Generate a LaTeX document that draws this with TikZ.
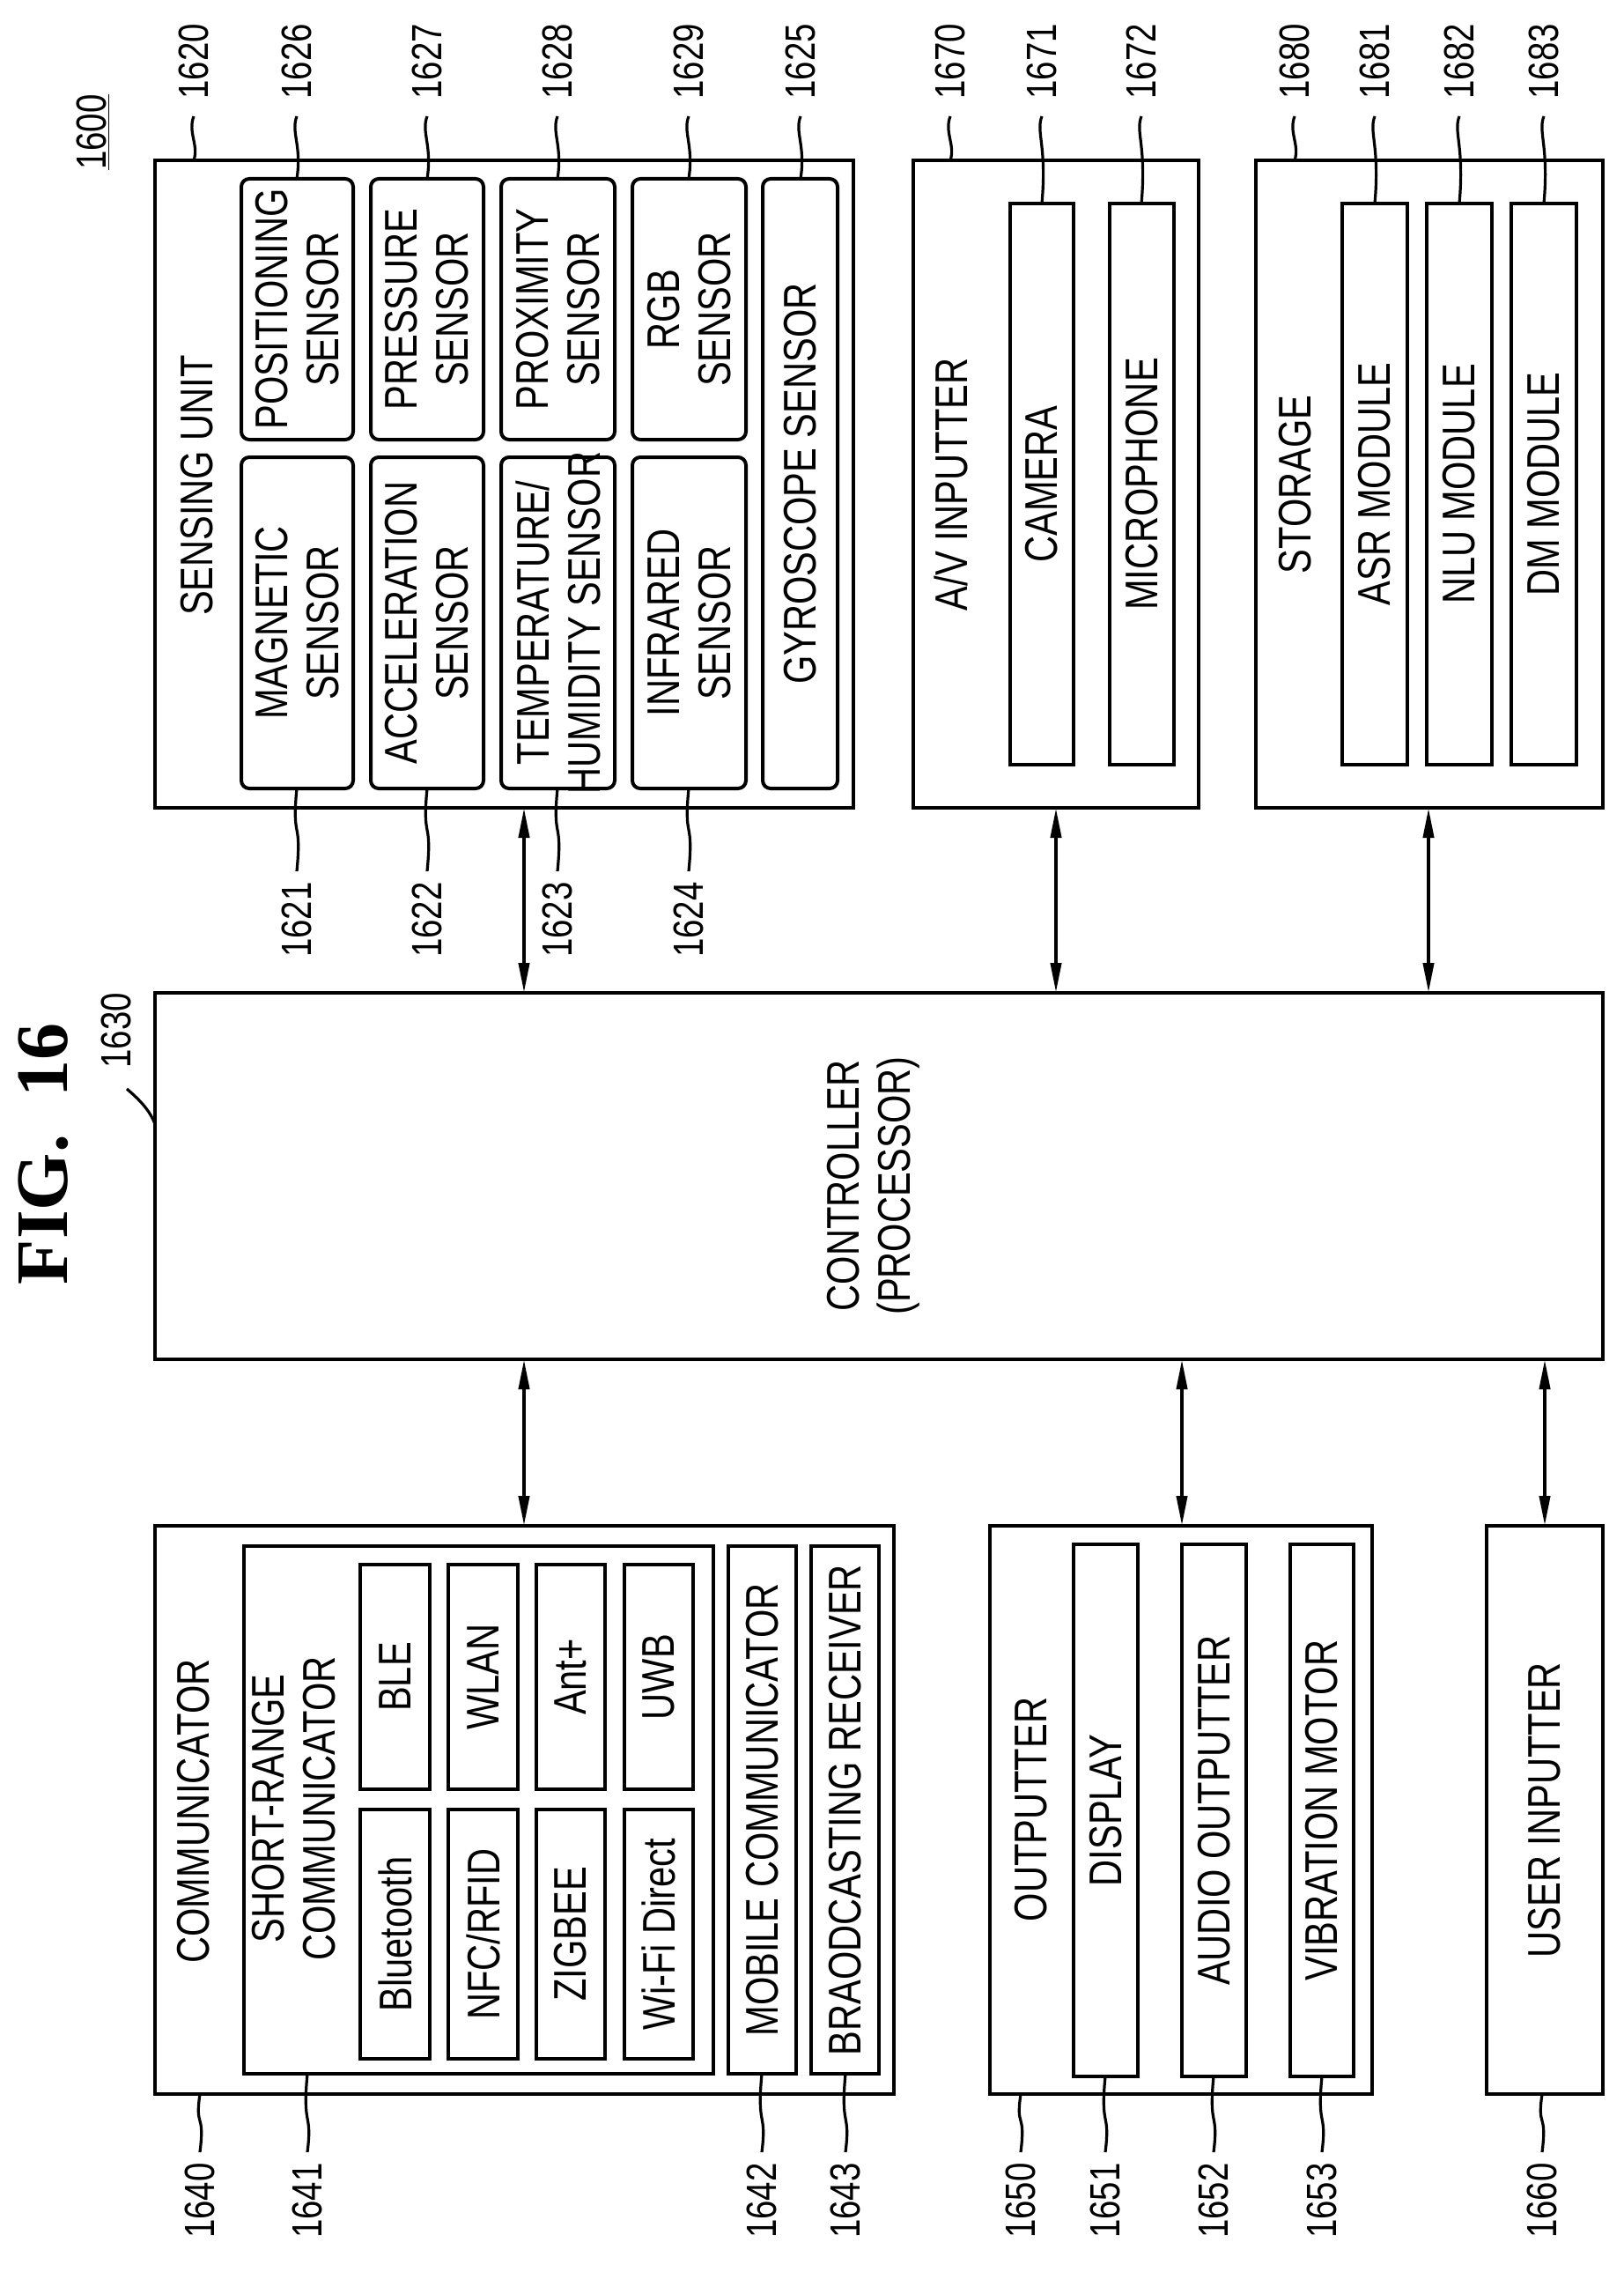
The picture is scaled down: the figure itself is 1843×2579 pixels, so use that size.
\documentclass[tikz,border=0pt]{standalone}
\usepackage{fontspec}
\setmainfont{Liberation Sans}[FakeStretch=0.8]
\newfontfamily\figfont{Liberation Serif}
\usetikzlibrary{arrows.meta,calc}
\tikzset{
 box/.style={draw,line width=2pt,inner sep=0pt,outer sep=0pt},
 rbox/.style={box,rounded corners=4.5pt},
 txt/.style={rotate=90,align=center,inner sep=0pt,font=\fontsize{26}{29}\selectfont},
 num/.style={rotate=90,inner sep=0pt,font=\fontsize{24}{28}\selectfont},
 lead/.style={line width=1.6pt},
 arr/.style={line width=2pt,{Triangle[length=17pt,width=6pt]}-{Triangle[length=17pt,width=6pt]}}
}
\newcommand\bx[7]{%
 \pgfmathsetmacro\bw{(#4-#2)*0.5}\pgfmathsetmacro\bh{(#5-#3)*0.5}%
 \node[#6,minimum width=\bw pt,minimum height=\bh pt] (#1) at ({(#2+#4)/2},{(#3+#5)/2}) {};%
 \node[txt] at (#1.center) {#7};}
\newcommand\toplab[3]{%
 \node[num,anchor=west] (n#1) at (#2,113) {#1};
 \draw[lead] (#2,132) .. controls (#2-7,150) and (#2+6,165) .. (#3 -| n#1);}
\newcommand\botlab[4]{%
 \node[num,anchor=east] (n#1) at (#2,#4+12) {#1};
 \draw[lead] (#3 -| n#1) .. controls (#2-6,{#4-(#4-\tmpy)*0.35}) and (#2+6,{#4-(#4-\tmpy)*0.65}) .. (#2,#4);}
\begin{document}
\begin{tikzpicture}[x=0.5pt,y=-0.5pt]
\useasboundingbox (0,0) rectangle (1843,2579);
\node[rotate=90,inner sep=0pt,font=\figfont\bfseries\fontsize{42}{46}\selectfont] (fig) at (49,1310) {FIG.~~16};
\node[num] (n1600) at (106,150) {\underline{1600}};
% sensing
\bx{sens}{176}{182}{969}{917}{box}{}
\node[txt] at (224,551) {SENSING UNIT};
\bx{s1}{274}{519}{401}{895}{rbox}{MAGNETIC\\SENSOR}
\bx{s2}{421}{519}{549}{895}{rbox}{ACCELERATION\\SENSOR}
\bx{s3}{569}{519}{698}{895}{rbox}{TEMPERATURE/\\HUMIDITY SENSOR}
\bx{s4}{718}{519}{847}{895}{rbox}{INFRARED\\SENSOR}
\bx{s6}{274}{203}{401}{499}{rbox}{POSITIONING\\SENSOR}
\bx{s7}{421}{203}{549}{499}{rbox}{PRESSURE\\SENSOR}
\bx{s8}{569}{203}{698}{499}{rbox}{PROXIMITY\\SENSOR}
\bx{s9}{718}{203}{847}{499}{rbox}{RGB\\SENSOR}
\bx{s5}{866}{203}{951}{895}{rbox}{GYROSCOPE SENSOR}
% A/V
\bx{av}{1037}{182}{1361}{917}{box}{}
\node[txt] at (1080,550) {A/V INPUTTER};
\bx{cam}{1147}{231}{1219}{868}{box}{CAMERA}
\bx{mic}{1260}{231}{1333}{868}{box}{MICROPHONE}
% storage
\bx{st}{1426}{182}{1820}{917}{box}{}
\node[txt] at (1471,550) {STORAGE};
\bx{asr}{1524}{231}{1598}{868}{box}{ASR MODULE}
\bx{nlu}{1620}{231}{1694}{868}{box}{NLU MODULE}
\bx{dm}{1716}{231}{1790}{868}{box}{DM MODULE}
% controller
\bx{ctl}{176}{1127}{1820}{1543}{box}{}
\node[txt] at (992,1346) {CONTROLLER\\(PROCESSOR)};
% communicator
\bx{com}{176}{1732}{1015}{2377}{box}{}
\node[txt] at (220,2056) {COMMUNICATOR};
\bx{sr}{277}{1755}{810}{2354}{box}{}
\node[txt] at (334,2053) {SHORT-RANGE\\COMMUNICATOR};
\bx{bt}{409}{2054}{488}{2337}{box}{Bluetooth}
\bx{nfc}{509}{2054}{588}{2337}{box}{NFC/RFID}
\bx{zig}{609}{2054}{687}{2337}{box}{ZIGBEE}
\bx{wifi}{709}{2054}{787}{2337}{box}{Wi-Fi Direct}
\bx{ble}{409}{1776}{488}{2031}{box}{BLE}
\bx{wlan}{509}{1776}{588}{2031}{box}{WLAN}
\bx{ant}{609}{1776}{687}{2031}{box}{Ant+}
\bx{uwb}{709}{1776}{787}{2031}{box}{UWB}
\bx{mob}{827}{1755}{904}{2354}{box}{MOBILE COMMUNICATOR}
\bx{brd}{921}{1755}{998}{2354}{box}{BRAODCASTING RECEIVER}
% outputter
\bx{out}{1124}{1732}{1558}{2377}{box}{}
\node[txt] at (1171,2054) {OUTPUTTER};
\bx{disp}{1219}{1753}{1292}{2357}{box}{DISPLAY}
\bx{aud}{1342}{1753}{1415}{2357}{box}{AUDIO OUTPUTTER}
\bx{vib}{1465}{1753}{1537}{2357}{box}{VIBRATION MOTOR}
\bx{ui}{1688}{1732}{1820}{2377}{box}{USER INPUTTER}
% arrows
\coordinate (a1) at (595,0); \coordinate (a2) at (1199,0); \coordinate (a3) at (1622,0);
\coordinate (a4) at (1342,0); \coordinate (a5) at (1754,0);
\draw[arr] (sens.south -| a1) -- (ctl.north -| a1);
\draw[arr] (av.south -| a2) -- (ctl.north -| a2);
\draw[arr] (st.south -| a3) -- (ctl.north -| a3);
\draw[arr] (ctl.south -| a1) -- (com.north -| a1);
\draw[arr] (ctl.south -| a4) -- (out.north -| a4);
\draw[arr] (ctl.south -| a5) -- (ui.north -| a5);
% top labels
\toplab{1620}{220}{sens.north}
\toplab{1626}{337}{s6.north}
\toplab{1627}{485}{s7.north}
\toplab{1628}{633}{s8.north}
\toplab{1629}{782}{s9.north}
\toplab{1625}{909}{s5.north}
\toplab{1670}{1079}{av.north}
\toplab{1671}{1183}{cam.north}
\toplab{1672}{1296}{mic.north}
\toplab{1680}{1470}{st.north}
\toplab{1681}{1561}{asr.north}
\toplab{1682}{1657}{nlu.north}
\toplab{1683}{1753}{dm.north}
% bottom sensing labels
\def\tmpy{895}
\botlab{1621}{337}{s1.south}{989}
\botlab{1622}{485}{s2.south}{989}
\botlab{1623}{633}{s3.south}{989}
\botlab{1624}{782}{s4.south}{989}
% bottom labels
\def\tmpy{2370}
\botlab{1640}{227}{com.south}{2443}
\botlab{1641}{349}{sr.south}{2443}
\botlab{1642}{865}{mob.south}{2443}
\botlab{1643}{960}{brd.south}{2443}
\botlab{1650}{1159}{out.south}{2443}
\botlab{1651}{1255}{disp.south}{2443}
\botlab{1652}{1378}{aud.south}{2443}
\botlab{1653}{1501}{vib.south}{2443}
\botlab{1660}{1751}{ui.south}{2443}
% 1630
\node[num,anchor=west] (n1630) at (132,1213) {1630};
\coordinate (c1630) at (0,1276);
\draw[lead] (144,1236) .. controls (158,1248) and (170,1260) .. (ctl.west |- c1630);
\end{tikzpicture}
\end{document}
